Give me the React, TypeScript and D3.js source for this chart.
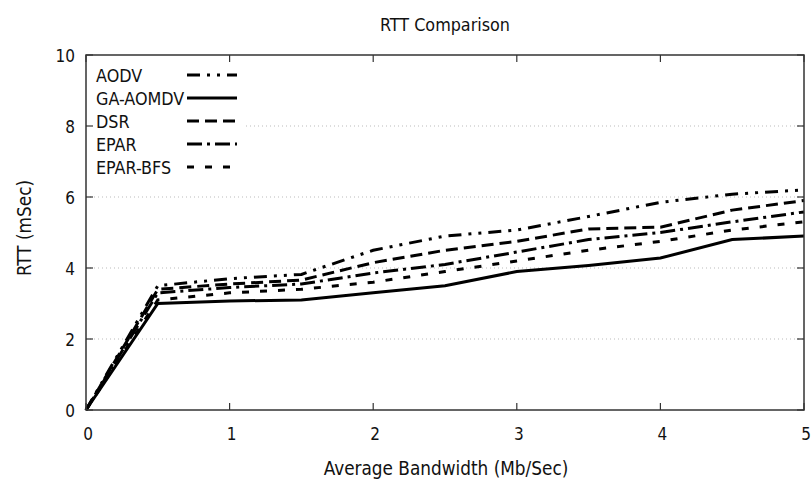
import React, { useEffect, useRef } from "react";
import * as d3 from "d3";

const bandwidth = [0, 0.5, 1, 1.5, 2, 2.5, 3, 3.5, 4, 4.5, 5];
const seriesNames = ["AODV", "GA-AOMDV", "DSR", "EPAR", "EPAR-BFS"];
const aodv = [0, 3.5, 3.7, 3.82, 4.5, 4.9, 5.07, 5.45, 5.85, 6.08, 6.2];
const gaAomdv = [0, 3.0, 3.07, 3.1, 3.3, 3.5, 3.9, 4.07, 4.28, 4.8, 4.9];
const dsr = [0, 3.4, 3.55, 3.66, 4.15, 4.5, 4.75, 5.1, 5.15, 5.63, 5.9];
const epar = [0, 3.3, 3.45, 3.55, 3.86, 4.1, 4.45, 4.8, 5.0, 5.3, 5.58];
const eparBfs = [0, 3.1, 3.3, 3.4, 3.6, 3.9, 4.2, 4.5, 4.75, 5.07, 5.3];
const xTicks = [0, 1, 2, 3, 4, 5];
const yTicks = [0, 2, 4, 6, 8, 10];

const seriesValues = [aodv, gaAomdv, dsr, epar, eparBfs];
const dashes = ["13,7,3,7,3,7", "", "12,6", "15,5,3,5", "7,11"];

export default function App() {
  const ref = useRef<SVGSVGElement>(null);
  useEffect(() => {
    const W = 811, H = 479;
    const svg = d3.select(ref.current);
    svg.selectAll("*").remove();
    const font = "'DejaVu Sans Condensed', 'DejaVu Sans', Verdana, sans-serif";
    const x = d3.scaleLinear().domain([0, 5]).range([86, 804]);
    const y = d3.scaleLinear().domain([0, 10]).range([410, 55]);

    svg.append("rect").attr("width", W).attr("height", H).attr("fill", "#fff");

    // grid
    svg.append("g").selectAll("line").data([2, 4, 6, 8]).join("line")
      .attr("x1", x(0)).attr("x2", x(5))
      .attr("y1", (d) => y(d)).attr("y2", (d) => y(d))
      .attr("stroke", "#bbb").attr("stroke-width", 1).attr("stroke-dasharray", "1,3");

    // lines
    const line = d3.line<number>().x((_, i) => x(bandwidth[i])).y((d) => y(d));
    seriesValues.forEach((vals, i) => {
      svg.append("path").datum(vals).attr("d", line)
        .attr("fill", "none").attr("stroke", "#000").attr("stroke-width", 3)
        .attr("stroke-dasharray", dashes[i] || null);
    });

    // legend
    const lg = svg.append("g");
    lg.append("rect").attr("x", x(0) + 1).attr("y", y(10) + 1).attr("width", 158).attr("height", 127).attr("fill", "#fff");
    seriesNames.forEach((name, i) => {
      const ly = 75 + i * 23;
      lg.append("text").attr("x", 96).attr("y", ly + 7).text(name)
        .attr("font-family", font).attr("font-size", 17.8).attr("fill", "#111");
      lg.append("line").attr("x1", 187).attr("x2", 237).attr("y1", ly).attr("y2", ly)
        .attr("stroke", "#000").attr("stroke-width", 3)
        .attr("stroke-dasharray", dashes[i] || null);
    });

    // frame
    svg.append("rect").attr("x", x(0)).attr("y", y(10)).attr("width", x(5) - x(0)).attr("height", y(0) - y(10))
      .attr("fill", "none").attr("stroke", "#333").attr("stroke-width", 1.5);

    // ticks
    const tk = svg.append("g").attr("stroke", "#333").attr("stroke-width", 1.2);
    xTicks.forEach((t) => {
      tk.append("line").attr("x1", x(t)).attr("x2", x(t)).attr("y1", y(0)).attr("y2", y(0) - 7);
      tk.append("line").attr("x1", x(t)).attr("x2", x(t)).attr("y1", y(10)).attr("y2", y(10) + 7);
      svg.append("text").attr("x", x(t) + 2).attr("y", y(0) + 30).attr("text-anchor", "middle")
        .attr("font-family", font).attr("font-size", 17).attr("fill", "#111").text(t);
    });
    yTicks.forEach((t) => {
      tk.append("line").attr("x1", x(0)).attr("x2", x(0) + 7).attr("y1", y(t)).attr("y2", y(t));
      tk.append("line").attr("x1", x(5)).attr("x2", x(5) - 7).attr("y1", y(t)).attr("y2", y(t));
      svg.append("text").attr("x", x(0) - 11).attr("y", y(t) + 7).attr("text-anchor", "end")
        .attr("font-family", font).attr("font-size", 17).attr("fill", "#111").text(t);
    });

    svg.append("text").attr("x", 445).attr("y", 31).attr("text-anchor", "middle")
      .attr("font-family", font).attr("font-size", 17.8).attr("fill", "#111").text("RTT Comparison");
    svg.append("text").attr("x", 446).attr("y", 475).attr("text-anchor", "middle")
      .attr("font-family", font).attr("font-size", 18.8).attr("fill", "#111").text("Average Bandwidth (Mb/Sec)");
    svg.append("text").attr("transform", "translate(31,228) rotate(-90)").attr("text-anchor", "middle")
      .attr("font-family", font).attr("font-size", 18.8).attr("fill", "#111").text("RTT (mSec)");
  }, []);
  return <svg ref={ref} width={811} height={479} style={{ position: "absolute", left: 0, top: 0 }} />;
}
